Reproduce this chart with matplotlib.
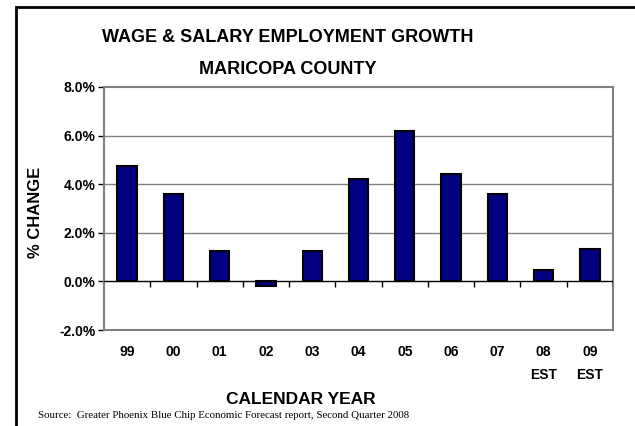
import matplotlib
matplotlib.use("Agg")
import matplotlib.pyplot as plt
from matplotlib.patches import Rectangle
import numpy as np

years = ["99", "00", "01", "02", "03", "04", "05", "06", "07", "08\nEST", "09\nEST"]
growth = [4.75, 3.6, 1.25, -0.2, 1.25, 4.2, 6.2, 4.4, 3.6, 0.45, 1.35]
yticks = [-2, 0, 2, 4, 6, 8]

plt.rcParams['font.family'] = ['Liberation Sans', 'DejaVu Sans']
plt.rcParams['font.weight'] = 'bold'

fig = plt.figure(figsize=(6.35, 4.26), dpi=100)
ax = fig.add_axes([104 / 635, 1 - 330 / 426, 509 / 635, 243 / 426])

x = np.arange(len(years))
ax.bar(x, growth, width=0.42, color='#000080', edgecolor='black', linewidth=1.5, zorder=3)

ax.set_xlim(-0.5, len(years) - 0.5)
ax.set_ylim(-2, 8)
ax.set_yticks(yticks)
ax.set_yticklabels(['%.1f%%' % v for v in yticks], fontsize=10, fontweight='bold')
ax.tick_params(axis='y', direction='out', length=4, width=1, color='black', pad=2)

ax.set_xticks(x)
ax.set_xticklabels(years, fontsize=10, fontweight='bold', linespacing=1.75, va='top')
ax.tick_params(axis='x', length=0, pad=11)

# gridlines and zero line with category ticks
for v in yticks[2:-1]:
    ax.axhline(v, color='#808080', linewidth=1, zorder=1)
ax.axhline(0, color='black', linewidth=1, zorder=4)
ax.vlines(np.arange(len(years)) + 0.5, -0.22, 0, color='black', linewidth=1, zorder=4)

for s in ['top', 'right', 'bottom', 'left']:
    ax.spines[s].set_color('#808080')
    ax.spines[s].set_linewidth(1.5)

fig.text(288 / 635, 1 - 37 / 426, "WAGE & SALARY EMPLOYMENT GROWTH", ha='center', va='center',
         fontsize=13, fontweight='bold')
fig.text(288 / 635, 1 - 70 / 426, "MARICOPA COUNTY", ha='center', va='center',
         fontsize=13, fontweight='bold')
fig.text(35 / 635, 1 - 212 / 426, "% CHANGE", rotation=90, ha='center', va='center',
         fontsize=12, fontweight='bold')
fig.text(301 / 635, 1 - 400 / 426, "CALENDAR YEAR", ha='center', va='center',
         fontsize=12.5, fontweight='bold')
fig.text(38 / 635, 1 - 416 / 426,
         "Source:  Greater Phoenix Blue Chip Economic Forecast report, Second Quarter 2008",
         ha='left', va='center', fontsize=7.8, fontweight='normal', family='Liberation Serif')

# outer chart border
fig.patches.append(Rectangle((16 / 635, -0.1), 1.0, 1 - 7 / 426 + 0.1, transform=fig.transFigure,
                             fill=False, edgecolor='black', linewidth=2))

fig.savefig("out.png", dpi=100)
